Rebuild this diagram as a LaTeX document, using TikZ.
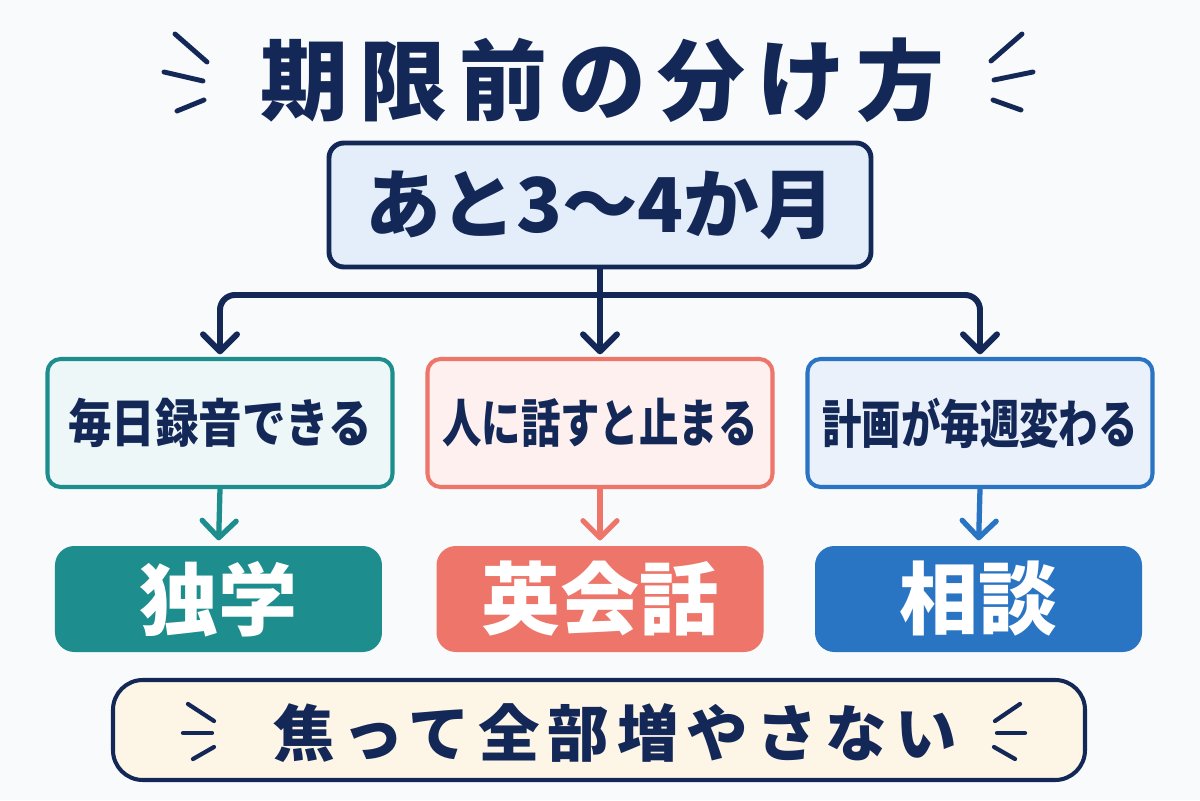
\documentclass[tikz,border=0pt]{standalone}
\usepackage{fontspec}
\usepackage{tikz}
\usetikzlibrary{positioning,arrows.meta}
\newfontfamily\jpfont{Noto Sans CJK JP}
\newfontfamily\jpnarrow{Noto Sans CJK JP}[FakeStretch=0.84]
\newfontfamily\jpnarrower{Noto Sans CJK JP}[FakeStretch=0.76]
\newfontfamily\jptitle{Noto Sans CJK JP}[LetterSpace=13]
\newfontfamily\jpnote{Noto Sans CJK JP}[LetterSpace=13]
\definecolor{inknavy}{RGB}{20,40,88}
\definecolor{pagebg}{RGB}{248,250,252}
\definecolor{toplight}{RGB}{228,238,250}
\definecolor{tealmain}{RGB}{30,141,141}
\definecolor{teallight}{RGB}{238,247,247}
\definecolor{salmonmain}{RGB}{237,117,105}
\definecolor{salmonlight}{RGB}{253,240,238}
\definecolor{bluemain}{RGB}{42,116,196}
\definecolor{bluelight}{RGB}{234,241,250}
\definecolor{notecream}{RGB}{253,246,230}

\begin{document}
\begin{tikzpicture}[
  >={Straight Barb[length=3.4mm,width=6.8mm,line cap=round,line join=round]},
  topbox/.style={draw=inknavy,line width=2.8pt,fill=toplight,rounded corners=8.5pt,minimum width=10.84cm,minimum height=2.48cm,inner sep=0pt,text=inknavy,font=\jpfont\bfseries\fontsize{43}{46}\selectfont},
  condbox/.style={line width=2.3pt,rounded corners=7.5pt,minimum width=6.9cm,minimum height=2.56cm,inner sep=0pt,text=inknavy,font=\jpnarrow\bfseries\fontsize{29.5}{32}\selectfont},
  pickbox/.style={rounded corners=11pt,minimum width=6.54cm,minimum height=2.12cm,inner sep=0pt,text=white,font=\jpfont\bfseries\fontsize{45}{48}\selectfont},
  notebox/.style={draw=inknavy,line width=2.3pt,fill=notecream,rounded corners=17pt,minimum width=19.44cm,minimum height=2.0cm,inner sep=0pt},
  ar/.style={->,line width=3.4pt,inknavy,line cap=round,shorten >=1.5pt},
  subar/.style={->,line width=3pt,line cap=round,shorten >=3pt},
  spark/.style={line width=2.8pt,inknavy,line cap=round}
]
\useasboundingbox (-12,-8) rectangle (12,8);
\fill[pagebg] (-12,-8) rectangle (12,8);

% TITLE with sparks on both sides
\node[text=inknavy,font=\jptitle\bfseries\fontsize{50}{54}\selectfont] (ttl) at (0.05,6.4) {期限前の分け方};
\draw[spark] (-8.5,7.32) -- (-7.86,6.76);
\draw[spark] (-8.72,6.56) -- (-7.94,6.38);
\draw[spark] (-8.46,5.78) -- (-7.92,6.0);
\draw[spark] (8.44,7.32) -- (7.82,6.78);
\draw[spark] (8.66,6.56) -- (7.88,6.4);
\draw[spark] (8.42,5.8) -- (7.86,6.0);

% TOP: time left
\node[topbox] (left) at (0,3.9) {あと3～4か月};
\coordinate (split) at (0,2.1);

% MIDDLE: three situations
\node[condbox,draw=tealmain,fill=teallight] (daily) at (-7.6,-0.46) {毎日録音できる};
\node[condbox,draw=salmonmain,fill=salmonlight,font=\jpnarrower\bfseries\fontsize{29.5}{32}\selectfont] (freeze) at (0,-0.46) {人に話すと止まる};
\node[condbox,draw=bluemain,fill=bluelight,font=\jpnarrower\bfseries\fontsize{29.5}{32}\selectfont] (shift) at (7.6,-0.46) {計画が毎週変わる};
\draw[ar] (left.south) -- (freeze.north);
\draw[ar,rounded corners=0.3cm] (split) -| (daily.north);
\draw[ar,rounded corners=0.3cm] (split) -| (shift.north);

% BOTTOM: what to pick
\node[pickbox,fill=tealmain] (selfstudy) at (-7.63,-3.98) {独学};
\node[pickbox,fill=salmonmain] (eikaiwa) at (0,-3.98) {英会話};
\node[pickbox,fill=bluemain] (soudan) at (7.57,-3.98) {相談};
\draw[subar,tealmain] (daily.south) -- (selfstudy.north);
\draw[subar,salmonmain] (freeze.south) -- (eikaiwa.north);
\draw[subar,bluemain] (shift.south) -- (soudan.north);

% NOTE at the foot
\node[notebox] (calm) at (-0.02,-6.6) {};
\node[text=inknavy,font=\jpnote\bfseries\fontsize{35}{38}\selectfont] (calmtxt) at (0.3,-6.66) {焦って全部増やさない};
\draw[spark,line width=2.4pt] (-8.24,-6.08) -- (-7.72,-6.42);
\draw[spark,line width=2.4pt] (-8.34,-6.66) -- (-7.76,-6.66);
\draw[spark,line width=2.4pt] (-8.14,-7.18) -- (-7.72,-6.94);
\draw[spark,line width=2.4pt] (8.4,-6.08) -- (7.9,-6.42);
\draw[spark,line width=2.4pt] (8.5,-6.66) -- (7.94,-6.66);
\draw[spark,line width=2.4pt] (8.3,-7.18) -- (7.88,-6.94);
\end{tikzpicture}
\end{document}
